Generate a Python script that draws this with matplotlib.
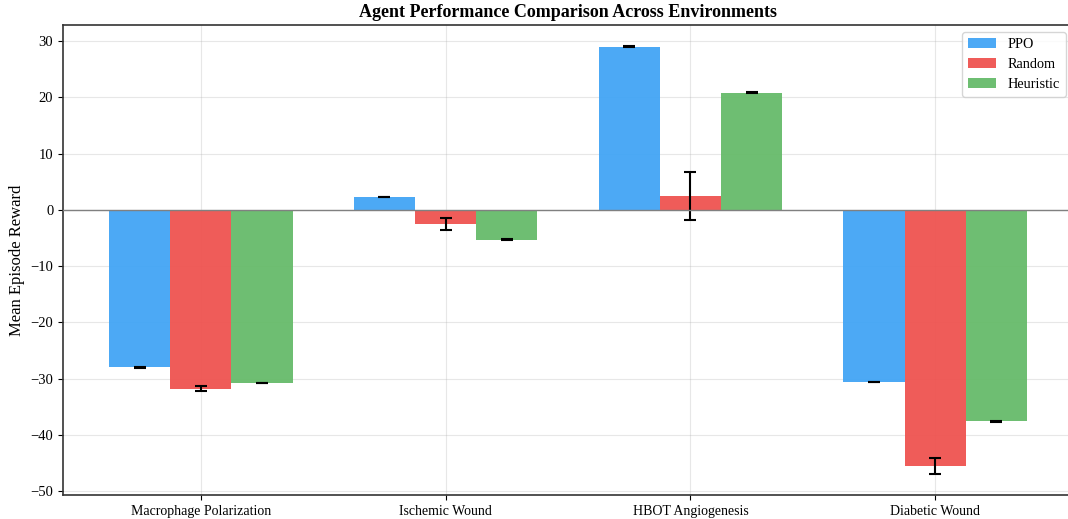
import matplotlib
matplotlib.use('Agg')
import matplotlib.pyplot as plt
import numpy as np

plt.rcParams['font.family'] = ['Liberation Serif', 'DejaVu Serif']

environments = ['Macrophage Polarization', 'Ischemic Wound', 'HBOT Angiogenesis', 'Diabetic Wound']
agents = ['PPO', 'Random', 'Heuristic']
colors = ['#42A5F5', '#EF5350', '#66BB6A']

ppo_mean = [-28.0, 2.3, 29.0, -30.6]
ppo_std = [0.05, 0.05, 0.05, 0.05]
random_mean = [-31.8, -2.5, 2.5, -45.5]
random_std = [0.4, 1.1, 4.3, 1.4]
heuristic_mean = [-30.8, -5.3, 20.8, -37.6]
heuristic_std = [0.05, 0.05, 0.05, 0.05]

means = [ppo_mean, random_mean, heuristic_mean]
stds = [ppo_std, random_std, heuristic_std]

fig = plt.figure(figsize=(10.68, 5.19), dpi=100)
ax = fig.add_axes([63 / 1068, 24 / 519, 1010 / 1068, 470 / 519])

x = np.arange(len(environments))
width = 0.25
for i, name in enumerate(agents):
    ax.bar(x + (i - 1) * width, means[i], width, yerr=stds[i], label=name,
           color=colors[i], alpha=0.95, capsize=4,
           error_kw=dict(ecolor='black', elinewidth=1.5, capthick=1.5), zorder=2)

ax.axhline(0, color='gray', linewidth=1, zorder=3)
ax.set_xticks(x)
ax.set_xticklabels(environments, fontsize=10)
ax.tick_params(axis='y', labelsize=10.5)
ax.set_ylabel('Mean Episode Reward', fontsize=12)
ax.set_title('Agent Performance Comparison Across Environments', fontsize=13, fontweight='bold')
ax.grid(True, alpha=0.3, zorder=0)
ax.set_axisbelow(True)
ax.legend(fontsize=10.3, loc='upper right')
for s in ax.spines.values():
    s.set_linewidth(1.2)
    s.set_color('#333333')

fig.savefig('out.png', dpi=100)
